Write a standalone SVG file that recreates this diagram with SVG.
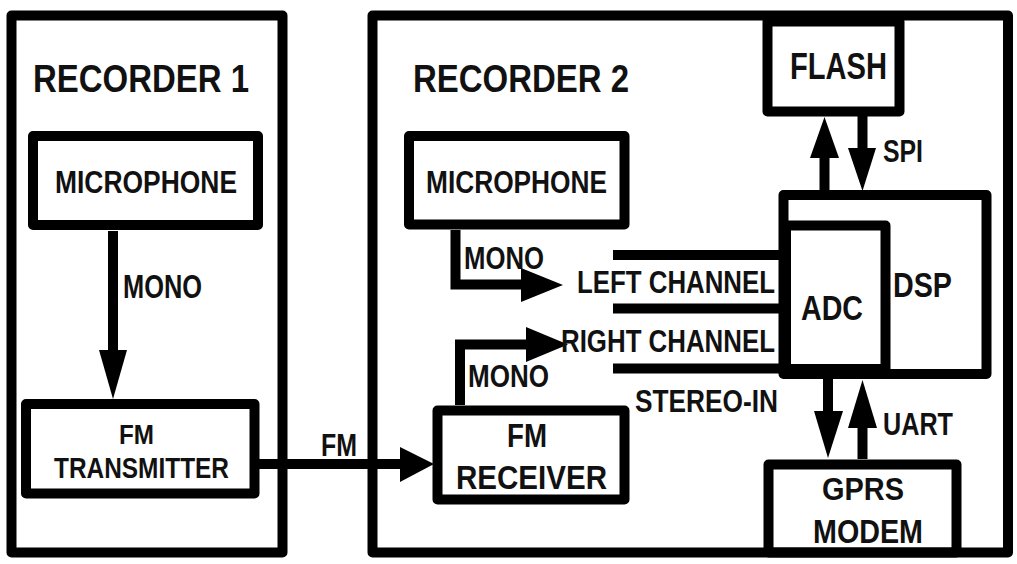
<svg xmlns="http://www.w3.org/2000/svg" width="1017" height="564" viewBox="0 0 1017 564">
<style>
.box{fill:none;stroke:#000;stroke-width:10;stroke-linejoin:round}
.ln{fill:none;stroke:#000;stroke-width:10}
.hd{fill:#000;stroke:none}
text{font-family:"Liberation Sans",Arial,sans-serif;font-weight:bold;fill:#111}
</style>
<rect width="1017" height="564" fill="#fff"/>
<g id="recorder1">
<rect class="box" x="11.5" y="15.5" width="271" height="537"/>
<text x="33" y="92" font-size="38" textLength="216" lengthAdjust="spacingAndGlyphs">RECORDER 1</text>
</g>
<g id="recorder2">
<rect class="box" x="372.5" y="15.5" width="635.5" height="537"/>
<text x="413" y="92" font-size="38" textLength="216" lengthAdjust="spacingAndGlyphs">RECORDER 2</text>
</g>
<g id="microphone1">
<rect class="box" x="33" y="136" width="225" height="89" stroke-width="11"/>
<text x="55" y="193" font-size="32" textLength="182" lengthAdjust="spacingAndGlyphs">MICROPHONE</text>
</g>
<g id="fm-transmitter">
<rect class="box" x="26" y="404" width="228.5" height="89.5" stroke-width="11"/>
<text x="119" y="444" font-size="27" textLength="35" lengthAdjust="spacingAndGlyphs">FM</text>
<text x="54" y="478" font-size="29" textLength="175" lengthAdjust="spacingAndGlyphs">TRANSMITTER</text>
</g>
<g id="microphone2">
<rect class="box" x="409" y="136" width="215.5" height="88.5" stroke-width="11"/>
<text x="426" y="193" font-size="32" textLength="181" lengthAdjust="spacingAndGlyphs">MICROPHONE</text>
</g>
<g id="fm-receiver">
<rect class="box" x="437.5" y="410.5" width="187" height="89"/>
<text x="507" y="447" font-size="33" textLength="40" lengthAdjust="spacingAndGlyphs">FM</text>
<text x="456" y="489" font-size="33" textLength="151" lengthAdjust="spacingAndGlyphs">RECEIVER</text>
</g>
<g id="flash">
<rect class="box" x="767.5" y="21.5" width="132" height="90"/>
<text x="790" y="79" font-size="36" textLength="97" lengthAdjust="spacingAndGlyphs">FLASH</text>
</g>
<g id="dsp">
<rect class="box" x="783.5" y="195" width="203" height="179" stroke-width="11"/>
<text x="893" y="297" font-size="35" textLength="59" lengthAdjust="spacingAndGlyphs">DSP</text>
</g>
<g id="adc">
<rect class="box" x="786" y="225.5" width="99.5" height="143.5" stroke-width="12"/>
<text x="801" y="320" font-size="35" textLength="62" lengthAdjust="spacingAndGlyphs">ADC</text>
</g>
<g id="gprs-modem">
<rect class="box" x="768.5" y="464.5" width="188" height="88" stroke-width="11"/>
<text x="822" y="500" font-size="32" textLength="82" lengthAdjust="spacingAndGlyphs">GPRS</text>
<text x="813" y="543" font-size="34" textLength="110" lengthAdjust="spacingAndGlyphs">MODEM</text>
</g>
<g id="connectors">
<line class="ln" x1="113" y1="231" x2="113" y2="352" stroke-width="8"/>
<polygon class="hd" points="99,350 127,350 113,399"/>
<text x="123" y="298" font-size="33" textLength="79" lengthAdjust="spacingAndGlyphs">MONO</text>
<line class="ln" x1="259" y1="464" x2="402" y2="464" stroke-width="11"/>
<polygon class="hd" points="400,447 400,482 434,464"/>
<text x="321" y="456" font-size="32" textLength="36" lengthAdjust="spacingAndGlyphs">FM</text>
<path class="ln" d="M455.5,230 V284.5 H523"/>
<polygon class="hd" points="521,268 521,302 563,285"/>
<text x="464" y="269" font-size="31" textLength="80" lengthAdjust="spacingAndGlyphs">MONO</text>
<path class="ln" d="M460,405 V344.5 H528"/>
<polygon class="hd" points="526,327 526,362 568,344.5"/>
<text x="468" y="387" font-size="31" textLength="81" lengthAdjust="spacingAndGlyphs">MONO</text>
<line class="ln" x1="613" y1="255" x2="783" y2="255" stroke-width="11"/>
<line class="ln" x1="613" y1="308.5" x2="783" y2="308.5" stroke-width="11"/>
<line class="ln" x1="613" y1="368.5" x2="783" y2="368.5" stroke-width="11"/>
<text x="577" y="293" font-size="31" textLength="198" lengthAdjust="spacingAndGlyphs">LEFT CHANNEL</text>
<text x="561" y="352" font-size="32" textLength="214" lengthAdjust="spacingAndGlyphs">RIGHT CHANNEL</text>
<text x="635" y="412" font-size="32" textLength="143" lengthAdjust="spacingAndGlyphs">STEREO-IN</text>
<line class="ln" x1="824.5" y1="190" x2="824.5" y2="156" stroke-width="9"/>
<polygon class="hd" points="810,158 839,158 824.5,117"/>
<line class="ln" x1="862.5" y1="116" x2="862.5" y2="150" stroke-width="9"/>
<polygon class="hd" points="848,148 876,148 862.5,191"/>
<text x="883" y="162" font-size="31" textLength="40" lengthAdjust="spacingAndGlyphs">SPI</text>
<line class="ln" x1="828" y1="379" x2="828" y2="413" stroke-width="10"/>
<polygon class="hd" points="814,411 843,411 828,458"/>
<line class="ln" x1="862.5" y1="459" x2="862.5" y2="426" stroke-width="9"/>
<polygon class="hd" points="848,428 877,428 862.5,380"/>
<text x="883" y="435" font-size="31" textLength="70" lengthAdjust="spacingAndGlyphs">UART</text>
</g>
</svg>
